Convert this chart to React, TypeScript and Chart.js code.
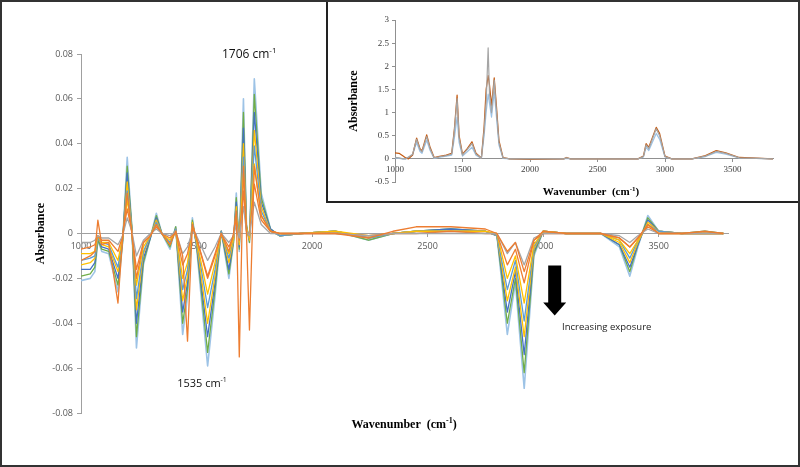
import React, { useEffect, useRef } from "react";
import { Chart, registerables } from "chart.js";

Chart.register(...registerables);

// ---------- Main difference spectra ----------
const wavenumbers = [
  1000, 1040, 1060, 1073, 1090, 1120, 1160, 1180, 1200, 1220,
  1240, 1270, 1300, 1326, 1350, 1385, 1410, 1440, 1461, 1482,
  1500, 1548, 1580, 1607, 1640, 1660, 1672, 1685, 1703, 1716,
  1729, 1750, 1780, 1820, 1860, 1950, 2100, 2245, 2350, 2450,
  2600, 2750, 2800, 2845, 2880, 2918, 2960, 3000, 3100, 3250,
  3330, 3375, 3410, 3453, 3500, 3600, 3700, 3780,
];

const exposure01 = [
  -0.012, -0.010, -0.008, 0.006, -0.005, -0.004, -0.031, -0.002, 0.018, 0.000,
  -0.020, -0.004, -0.001, 0.004, 0.000, -0.005, 0.001, -0.010, -0.048, 0.004,
  -0.002, -0.020, -0.010, 0.000, -0.008, 0.000, 0.010, -0.055, 0.030, 0.000,
  -0.043, 0.030, 0.008, 0.001, 0.000, 0.000, 0.000, -0.002, 0.001, 0.003,
  0.003, 0.002, 0.000, -0.008, -0.004, -0.017, -0.003, 0.001, 0.000, 0.000,
  -0.002, -0.006, -0.002, 0.004, 0.000, 0.000, 0.001, 0.000,
];
const exposure02 = [
  -0.004, -0.004, -0.003, -0.001, -0.002, -0.002, -0.005, -0.001, 0.007, 0.001,
  -0.010, -0.003, 0.000, 0.002, 0.000, -0.001, 0.001, -0.009, -0.006, 0.001,
  -0.001, -0.012, -0.006, 0.000, -0.004, -0.001, 0.004, -0.002, 0.012, 0.001,
  -0.001, 0.014, 0.004, 0.000, 0.000, 0.000, 0.000, -0.001, 0.000, 0.000,
  0.000, 0.000, 0.000, -0.009, -0.004, -0.014, -0.002, 0.000, 0.000, 0.000,
  -0.001, -0.004, -0.001, 0.002, 0.000, 0.000, 0.000, 0.000,
];
const exposure03 = [
  -0.007, -0.006, -0.005, -0.001, -0.003, -0.003, -0.008, -0.001, 0.011, 0.001,
  -0.016, -0.004, -0.001, 0.003, 0.000, -0.002, 0.001, -0.014, -0.009, 0.002,
  -0.002, -0.019, -0.009, 0.000, -0.006, -0.001, 0.006, -0.003, 0.019, 0.001,
  -0.001, 0.022, 0.006, 0.001, 0.000, 0.000, 0.000, -0.001, 0.000, 0.000,
  0.001, 0.000, 0.000, -0.014, -0.007, -0.022, -0.003, 0.000, 0.000, 0.000,
  -0.002, -0.006, -0.002, 0.003, 0.000, 0.000, 0.000, 0.000,
];
const exposure04 = [
  -0.009, -0.009, -0.008, -0.001, -0.004, -0.004, -0.012, -0.002, 0.015, 0.001,
  -0.023, -0.006, -0.001, 0.004, 0.000, -0.003, 0.001, -0.020, -0.013, 0.003,
  -0.003, -0.027, -0.013, 0.000, -0.009, -0.002, 0.008, -0.004, 0.027, 0.002,
  -0.002, 0.031, 0.008, 0.001, 0.000, 0.000, 0.001, -0.001, 0.000, 0.001,
  0.001, 0.001, 0.000, -0.020, -0.010, -0.031, -0.005, 0.001, 0.000, 0.000,
  -0.003, -0.009, -0.003, 0.004, 0.000, 0.000, 0.000, 0.000,
];
const exposure05 = [
  -0.012, -0.011, -0.010, -0.002, -0.004, -0.005, -0.015, -0.002, 0.019, 0.002,
  -0.029, -0.008, -0.001, 0.005, 0.000, -0.004, 0.002, -0.025, -0.016, 0.004,
  -0.003, -0.033, -0.016, 0.001, -0.011, -0.002, 0.010, -0.004, 0.034, 0.002,
  -0.002, 0.039, 0.010, 0.001, -0.001, 0.000, 0.001, -0.002, 0.000, 0.001,
  0.001, 0.001, -0.001, -0.025, -0.012, -0.039, -0.006, 0.001, 0.000, 0.000,
  -0.003, -0.011, -0.003, 0.004, 0.001, 0.000, 0.000, 0.000,
];
const exposure06 = [
  -0.014, -0.013, -0.011, -0.002, -0.005, -0.006, -0.017, -0.003, 0.023, 0.002,
  -0.034, -0.009, -0.001, 0.006, 0.000, -0.005, 0.002, -0.030, -0.019, 0.005,
  -0.004, -0.040, -0.019, 0.001, -0.013, -0.003, 0.012, -0.005, 0.040, 0.003,
  -0.003, 0.046, 0.012, 0.001, -0.001, 0.000, 0.001, -0.002, 0.000, 0.001,
  0.001, 0.001, -0.001, -0.030, -0.015, -0.046, -0.007, 0.001, 0.000, 0.000,
  -0.004, -0.013, -0.004, 0.005, 0.001, 0.000, 0.000, 0.000,
];
const exposure07 = [
  -0.016, -0.016, -0.013, -0.002, -0.006, -0.007, -0.020, -0.003, 0.027, 0.002,
  -0.040, -0.011, -0.002, 0.007, 0.000, -0.005, 0.002, -0.035, -0.022, 0.005,
  -0.005, -0.046, -0.022, 0.001, -0.016, -0.003, 0.014, -0.006, 0.047, 0.003,
  -0.003, 0.054, 0.014, 0.002, -0.001, 0.000, 0.001, -0.002, 0.000, 0.001,
  0.002, 0.001, -0.001, -0.035, -0.017, -0.054, -0.008, 0.001, 0.000, 0.000,
  -0.005, -0.015, -0.005, 0.006, 0.001, 0.000, 0.000, 0.000,
];
const exposure08 = [
  -0.019, -0.018, -0.015, -0.003, -0.007, -0.008, -0.023, -0.004, 0.030, 0.003,
  -0.046, -0.013, -0.002, 0.008, 0.000, -0.006, 0.003, -0.040, -0.025, 0.006,
  -0.005, -0.053, -0.025, 0.001, -0.018, -0.004, 0.016, -0.007, 0.054, 0.004,
  -0.004, 0.062, 0.016, 0.002, -0.001, 0.000, 0.001, -0.003, 0.000, 0.001,
  0.002, 0.001, -0.001, -0.040, -0.020, -0.062, -0.009, 0.001, 0.000, 0.000,
  -0.005, -0.017, -0.005, 0.007, 0.001, 0.000, 0.001, 0.000,
];
const exposure09 = [
  -0.021, -0.020, -0.017, -0.003, -0.008, -0.009, -0.026, -0.004, 0.034, 0.003,
  -0.051, -0.014, -0.002, 0.009, 0.000, -0.007, 0.003, -0.045, -0.028, 0.007,
  -0.006, -0.059, -0.028, 0.001, -0.020, -0.004, 0.018, -0.008, 0.060, 0.004,
  -0.004, 0.069, 0.018, 0.002, -0.001, 0.000, 0.001, -0.003, 0.000, 0.001,
  0.002, 0.001, -0.001, -0.045, -0.022, -0.069, -0.010, 0.001, 0.000, 0.000,
  -0.006, -0.019, -0.006, 0.008, 0.001, 0.000, 0.001, 0.000,
];

const mainSeries = [exposure01, exposure02, exposure03, exposure04, exposure05, exposure06, exposure07, exposure08, exposure09];
const mainColors = ["#ED7D31", "#A5A5A5", "#ED7D31", "#FFC000", "#5B9BD5", "#FFC000", "#4472C4", "#70AD47", "#9DC3E6"];
const xTickValues = [1000, 1500, 2000, 2500, 3000, 3500];

// ---------- Inset: absorbance spectra ----------
const insetWavenumbers = [
  1000, 1030, 1060, 1080, 1100, 1130, 1160, 1185, 1200, 1235,
  1260, 1290, 1320, 1380, 1420, 1440, 1460, 1475, 1500, 1535,
  1570, 1600, 1640, 1660, 1675, 1690, 1700, 1715, 1735, 1750,
  1770, 1800, 1850, 2000, 2250, 2270, 2300, 2500, 2800, 2840,
  2860, 2880, 2935, 2960, 3000, 3050, 3200, 3300, 3380, 3450,
  3550, 3800,
];
const insetGray = [
  0.03, 0.02, 0.0, 0.0, 0.04, 0.1, 0.42, 0.2, 0.15, 0.48,
  0.22, 0.02, 0.04, 0.07, 0.1, 0.6, 1.3, 0.45, 0.08, 0.2,
  0.33, 0.1, 0.02, 0.6, 1.2, 2.4, 1.4, 1.0, 1.7, 1.1,
  0.35, 0.02, 0.0, 0.0, 0.0, 0.02, 0.0, 0.0, 0.0, 0.05,
  0.3, 0.22, 0.65, 0.5, 0.05, 0.0, 0.0, 0.06, 0.16, 0.12,
  0.02, 0.0,
];
const insetOrange = [
  0.13, 0.12, 0.06, 0.02, 0.0, 0.08, 0.45, 0.22, 0.17, 0.52,
  0.25, 0.03, 0.05, 0.08, 0.12, 0.65, 1.38, 0.5, 0.1, 0.22,
  0.37, 0.12, 0.02, 0.7, 1.5, 1.8, 1.6, 1.15, 1.75, 1.2,
  0.4, 0.03, 0.0, -0.01, 0.0, 0.03, 0.0, 0.0, 0.0, 0.06,
  0.33, 0.25, 0.68, 0.55, 0.06, 0.0, 0.0, 0.07, 0.18, 0.13,
  0.03, 0.0,
];
const insetBlue = [
  0.02, 0.01, 0.0, 0.0, 0.03, 0.08, 0.35, 0.16, 0.12, 0.4,
  0.18, 0.01, 0.03, 0.06, 0.08, 0.45, 0.9, 0.35, 0.06, 0.15,
  0.25, 0.08, 0.01, 0.5, 1.0, 1.4, 1.2, 0.9, 1.45, 0.95,
  0.3, 0.01, 0.0, 0.0, 0.0, 0.01, 0.0, 0.0, 0.0, 0.04,
  0.25, 0.18, 0.55, 0.42, 0.04, 0.0, 0.0, 0.05, 0.14, 0.1,
  0.02, 0.0,
];
const insetSeries = [insetGray, insetOrange, insetBlue];
const insetColors = ["#A5A5A5", "#C55A11", "#9DC3E6"];

const SANS = '"Open Sans", "Liberation Sans", sans-serif';
const SERIF = '"Liberation Serif", "DejaVu Serif", serif';

function drawWithSup(
  ctx: CanvasRenderingContext2D,
  base: string,
  sup: string,
  tail: string,
  x: number,
  y: number,
  baseFont: string,
  supFont: string,
  raise: number,
  center: boolean
) {
  ctx.font = baseFont;
  const wb = ctx.measureText(base).width;
  const wt = tail ? ctx.measureText(tail).width : 0;
  ctx.font = supFont;
  const ws = ctx.measureText(sup).width;
  const start = center ? x - (wb + ws + wt) / 2 : x;
  ctx.textAlign = "left";
  ctx.textBaseline = "alphabetic";
  ctx.font = baseFont;
  ctx.fillText(base, start, y);
  ctx.font = supFont;
  ctx.fillText(sup, start + wb, y - raise);
  if (tail) {
    ctx.font = baseFont;
    ctx.fillText(tail, start + wb + ws, y);
  }
}

const mainAnnotations = {
  id: "mainAnnotations",
  afterDraw(chart: any) {
    const ctx: CanvasRenderingContext2D = chart.ctx;
    const xs = chart.scales.x;
    const ys = chart.scales.y;
    const px = (w: number) => xs.getPixelForValue(w);
    const py = (v: number) => ys.getPixelForValue(v);
    ctx.save();
    ctx.fillStyle = "#111";
    drawWithSup(ctx, "1706 cm", "-1", "", px(1610), py(0.0784), `12px ${SANS}`, `8px ${SANS}`, 5, false);
    drawWithSup(ctx, "1535 cm", "-1", "", px(1416), py(-0.0686), `11px ${SANS}`, `7px ${SANS}`, 5, false);
    // arrow
    const cx = px(3050);
    const top = py(-0.0143);
    const neck = py(-0.0307);
    const tip = py(-0.0365);
    ctx.fillStyle = "#000";
    ctx.beginPath();
    ctx.moveTo(cx - 6.5, top);
    ctx.lineTo(cx + 6.5, top);
    ctx.lineTo(cx + 6.5, neck);
    ctx.lineTo(cx + 11.5, neck);
    ctx.lineTo(cx, tip);
    ctx.lineTo(cx - 11.5, neck);
    ctx.lineTo(cx - 6.5, neck);
    ctx.closePath();
    ctx.fill();
    ctx.fillStyle = "#222";
    ctx.font = `9.5px ${SANS}`;
    ctx.textAlign = "left";
    ctx.textBaseline = "alphabetic";
    ctx.fillText("Increasing exposure", px(3082), py(-0.0432));
    ctx.fillStyle = "#000";
    drawWithSup(ctx, "Wavenumber  (cm", "-1", ")", px(2398), py(-0.0869), `bold 12px ${SERIF}`, `bold 8px ${SERIF}`, 5, true);
    ctx.restore();
  },
};

const insetAnnotations = {
  id: "insetAnnotations",
  afterDraw(chart: any) {
    const ctx: CanvasRenderingContext2D = chart.ctx;
    const area = chart.chartArea;
    ctx.save();
    ctx.fillStyle = "#000";
    drawWithSup(ctx, "Wavenumber  (cm", "-1", ")", (area.left + area.right) / 2 + 7, area.bottom + 13, `bold 11px ${SERIF}`, `bold 7px ${SERIF}`, 4, true);
    ctx.restore();
  },
};

const setXTicks = (axis: any) => {
  axis.ticks = xTickValues.map((v) => ({ value: v }));
};

export default function App() {
  const mainRef = useRef<HTMLCanvasElement>(null);
  const insetRef = useRef<HTMLCanvasElement>(null);

  useEffect(() => {
    const mainChart = new Chart(mainRef.current as HTMLCanvasElement, {
      type: "line",
      data: {
        datasets: mainSeries.map((values, i) => ({
          label: `Exposure ${i + 1}`,
          data: wavenumbers.map((w, j) => ({ x: w, y: values[j] })),
          borderColor: mainColors[i],
          backgroundColor: mainColors[i],
          borderWidth: i === mainSeries.length - 1 ? 1.6 : 1.3,
          borderJoinStyle: "round",
          pointRadius: 0,
          tension: 0,
          fill: false,
        })),
      },
      options: {
        animation: false,
        responsive: false,
        maintainAspectRatio: false,
        layout: { padding: { left: 30, right: 72, top: 54, bottom: 54 } },
        plugins: { legend: { display: false }, tooltip: { enabled: false } },
        scales: {
          x: {
            type: "linear",
            min: 1000,
            max: 3800,
            position: { y: 0 },
            afterFit: (s: any) => {
              s.height = 0;
            },
            afterBuildTicks: setXTicks,
            ticks: {
              autoSkip: false,
              maxRotation: 0,
              padding: 5,
              color: "#595959",
              font: { family: SANS, size: 9 },
              callback: (v: any) => String(v),
            },
            grid: { display: true, drawOnChartArea: false, drawTicks: true, tickLength: 3, color: "#A0A0A0" },
            border: { display: true, color: "#A0A0A0", width: 1 },
          },
          y: {
            type: "linear",
            min: -0.08,
            max: 0.08,
            afterFit: (s: any) => {
              s.width = 51;
            },
            ticks: {
              stepSize: 0.02,
              padding: 4,
              color: "#595959",
              font: { family: SANS, size: 9 },
              callback: (v: any) => String(Math.round(Number(v) * 100) / 100),
            },
            title: {
              display: true,
              text: "Absorbance",
              color: "#000",
              font: { family: SERIF, size: 12, weight: "bold" },
            },
            grid: { display: true, drawOnChartArea: false, drawTicks: true, tickLength: 4, color: "#A0A0A0" },
            border: { display: true, color: "#A0A0A0", width: 1 },
          },
        },
      },
      plugins: [mainAnnotations],
    } as any);

    const insetChart = new Chart(insetRef.current as HTMLCanvasElement, {
      type: "line",
      data: {
        datasets: insetSeries.map((values, i) => ({
          label: `Spectrum ${i + 1}`,
          data: insetWavenumbers.map((w, j) => ({ x: w, y: values[j] })),
          borderColor: insetColors[i],
          backgroundColor: insetColors[i],
          borderWidth: 1.2,
          borderJoinStyle: "round",
          pointRadius: 0,
          tension: 0,
          fill: false,
        })),
      },
      options: {
        animation: false,
        responsive: false,
        maintainAspectRatio: false,
        layout: { padding: { left: 15, right: 27, top: 20, bottom: 19 } },
        plugins: { legend: { display: false }, tooltip: { enabled: false } },
        scales: {
          x: {
            type: "linear",
            min: 1000,
            max: 3800,
            position: { y: 0 },
            afterFit: (s: any) => {
              s.height = 0;
            },
            afterBuildTicks: setXTicks,
            ticks: {
              autoSkip: false,
              maxRotation: 0,
              padding: 2,
              color: "#404040",
              font: { family: SERIF, size: 9 },
              callback: (v: any) => String(v),
            },
            grid: { display: true, drawOnChartArea: false, drawTicks: true, tickLength: 3, color: "#909090" },
            border: { display: true, color: "#909090", width: 1 },
          },
          y: {
            type: "linear",
            min: -0.5,
            max: 3,
            afterFit: (s: any) => {
              s.width = 52;
            },
            ticks: {
              stepSize: 0.5,
              padding: 3,
              color: "#404040",
              font: { family: SERIF, size: 9 },
              callback: (v: any) => String(Math.round(Number(v) * 10) / 10),
            },
            title: {
              display: true,
              text: "Absorbance",
              color: "#000",
              font: { family: SERIF, size: 12, weight: "bold" },
            },
            grid: { display: true, drawOnChartArea: false, drawTicks: true, tickLength: 3, color: "#909090" },
            border: { display: true, color: "#909090", width: 1 },
          },
        },
      },
      plugins: [insetAnnotations],
    } as any);

    return () => {
      mainChart.destroy();
      insetChart.destroy();
    };
  }, []);

  return (
    <div style={{ position: "fixed", left: 0, top: 0, width: 800, height: 467, background: "#fff", overflow: "hidden" }}>
      <canvas ref={mainRef} width={800} height={467} style={{ position: "absolute", left: 0, top: 0, width: 800, height: 467 }} />
      <div
        style={{
          position: "absolute",
          left: 326,
          top: 0,
          width: 474,
          height: 203,
          boxSizing: "border-box",
          borderLeft: "2px solid #222",
          borderBottom: "2px solid #222",
          background: "#fff",
        }}
      >
        <canvas ref={insetRef} width={472} height={201} style={{ display: "block", width: 472, height: 201 }} />
      </div>
      <div
        style={{
          position: "absolute",
          left: 0,
          top: 0,
          width: 800,
          height: 467,
          boxSizing: "border-box",
          border: "2px solid #333",
          pointerEvents: "none",
        }}
      />
    </div>
  );
}
